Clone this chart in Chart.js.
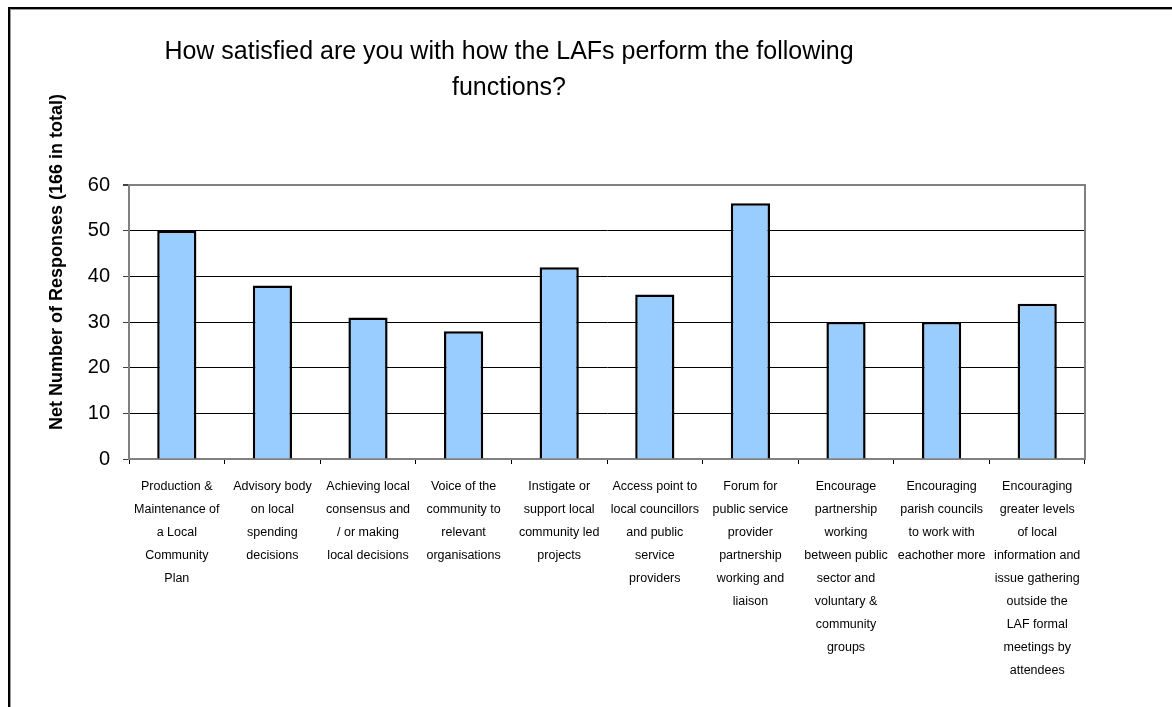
<!DOCTYPE html>
<html>
<head>
<meta charset="utf-8">
<script src="https://cdn.jsdelivr.net/npm/chart.js@4/dist/chart.umd.min.js"></script>
<style>
  html, body { margin: 0; padding: 0; background: #fff; }
  #wrap { width: 1172px; height: 707px; position: relative; }
</style>
</head>
<body>
<div id="wrap"><canvas id="c"></canvas></div>
<script>
const TITLE_LINES = ['How satisfied are you with how the LAFs perform the following', 'functions?'];
const Y_TITLE = 'Net Number of Responses (166 in total)';
const categories = [
  ['Production &', 'Maintenance of', 'a Local', 'Community', 'Plan'],
  ['Advisory body', 'on local', 'spending', 'decisions'],
  ['Achieving local', 'consensus and', '/ or making', 'local decisions'],
  ['Voice of the', 'community to', 'relevant', 'organisations'],
  ['Instigate or', 'support local', 'community led', 'projects'],
  ['Access point to', 'local councillors', 'and public', 'service', 'providers'],
  ['Forum for', 'public service', 'provider', 'partnership', 'working and', 'liaison'],
  ['Encourage', 'partnership', 'working', 'between public', 'sector and', 'voluntary &', 'community', 'groups'],
  ['Encouraging', 'parish councils', 'to work with', 'eachother more'],
  ['Encouraging', 'greater levels', 'of local', 'information and', 'issue gathering', 'outside the', 'LAF formal', 'meetings by', 'attendees']
];
const values = [50, 38, 31, 28, 42, 36, 56, 30, 30, 34];
const yTicks = [0, 10, 20, 30, 40, 50, 60];

const FONT = "'Liberation Sans', Arial, sans-serif";

const decor = {
  id: 'decor',
  beforeDraw(chart) {
    const ctx = chart.ctx;
    ctx.save();
    ctx.fillStyle = '#fff';
    ctx.fillRect(0, 0, chart.width, chart.height);
    ctx.restore();
  },
  afterDraw(chart) {
    const ctx = chart.ctx;
    const a = chart.chartArea;
    ctx.save();
    // right plot border
    ctx.strokeStyle = '#808080';
    ctx.lineWidth = 2;
    ctx.beginPath();
    ctx.moveTo(a.right, a.top - 1);
    ctx.lineTo(a.right, a.bottom);
    ctx.stroke();
    // outer frame (top & left), with light shadow
    ctx.fillStyle = '#000';
    ctx.fillRect(8, 7, chart.width - 8, 2);
    ctx.fillRect(8, 7, 2, chart.height - 7);
    ctx.fillStyle = '#9a9a9a';
    ctx.fillRect(10, 9, chart.width - 10, 1);
    ctx.fillRect(10, 9, 1, chart.height - 9);
    // main title
    ctx.fillStyle = '#000';
    ctx.font = "25px " + FONT;
    ctx.textAlign = 'center';
    ctx.textBaseline = 'middle';
    ctx.fillText(TITLE_LINES[0], 509, 52);
    ctx.fillText(TITLE_LINES[1], 509, 88);
    // y axis title
    ctx.translate(57, 262);
    ctx.rotate(-Math.PI / 2);
    ctx.font = "bold 18px " + FONT;
    ctx.fillText(Y_TITLE, 0, 0);
    ctx.restore();
  }
};

new Chart(document.getElementById('c'), {
  type: 'bar',
  data: {
    labels: categories,
    datasets: [{
      data: values,
      backgroundColor: '#99CCFF',
      borderColor: '#000',
      borderWidth: 2.5,
      barPercentage: 0.41,
      categoryPercentage: 1
    }]
  },
  options: {
    responsive: true,
    maintainAspectRatio: false,
    animation: false,
    layout: { padding: { top: 185, right: 87, bottom: 0, left: 0 } },
    plugins: { legend: { display: false }, title: { display: false }, tooltip: { enabled: false } },
    scales: {
      x: {
        offset: true,
        grid: { offset: true, drawOnChartArea: false, drawTicks: true, tickLength: 5, tickColor: '#000' },
        border: { color: '#808080', width: 2 },
        ticks: {
          autoSkip: false, maxRotation: 0, minRotation: 0, color: '#000', padding: 11,
          font: { family: FONT, size: 12.5, lineHeight: 1.84 }
        },
        afterFit(s) { s.height = 248; }
      },
      y: {
        min: yTicks[0],
        max: yTicks[yTicks.length - 1],
        afterBuildTicks(s) { s.ticks = yTicks.map(v => ({ value: v })); },
        grid: {
          color: c => (c.tick && c.tick.value === 60) ? '#808080' : (c.tick && c.tick.value === 0 ? 'rgba(0,0,0,0)' : '#000'),
          lineWidth: c => (c.tick && c.tick.value === 60) ? 2 : 1,
          tickLength: 6,
          tickColor: '#404040'
        },
        border: { color: '#808080', width: 2 },
        ticks: { color: '#000', padding: 13, font: { family: FONT, size: 20 } },
        afterFit(s) { s.width = 129; }
      }
    }
  },
  plugins: [decor]
});
</script>
</body>
</html>
